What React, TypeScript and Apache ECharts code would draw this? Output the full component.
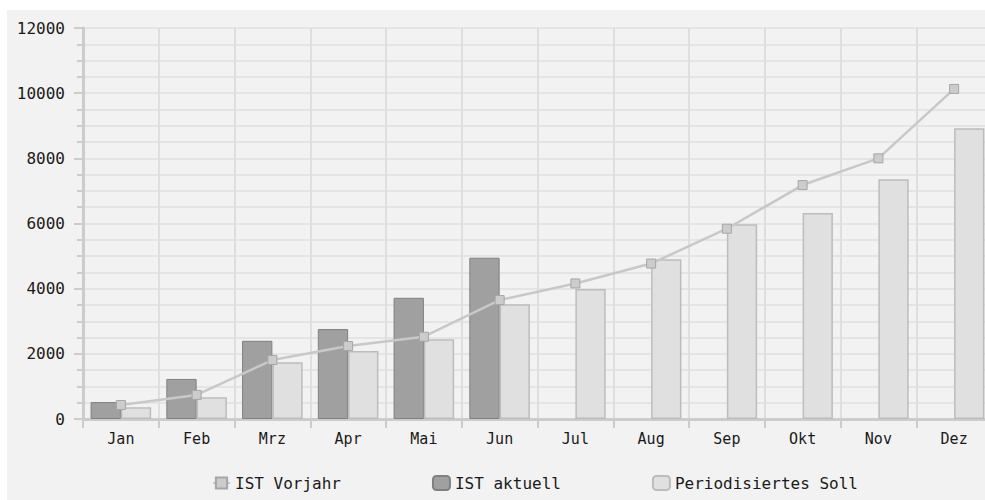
import React, { useEffect, useRef } from "react";
import * as echarts from "echarts";

const months = ["Jan", "Feb", "Mrz", "Apr", "Mai", "Jun", "Jul", "Aug", "Sep", "Okt", "Nov", "Dez"];
const istVorjahr = [430, 740, 1810, 2240, 2525, 3650, 4160, 4770, 5840, 7180, 8000, 10130];
const istAktuell: (number | null)[] = [520, 1230, 2400, 2760, 3720, 4950, null, null, null, null, null, null];
const periodSoll = [360, 665, 1740, 2090, 2445, 3520, 3990, 4900, 5980, 6320, 7360, 8920];

const FONT = "DejaVu Sans Mono";

export default function App() {
  const ref = useRef<HTMLDivElement>(null);
  useEffect(() => {
    if (!ref.current) return;
    const chart = echarts.init(ref.current, null, { renderer: "svg" });
    chart.setOption({
      animation: false,
      backgroundColor: "#f2f2f2",
      grid: { left: 76, top: 18, right: 0, bottom: 81, containLabel: false },
      legend: {
        left: 200,
        top: 460,
        itemWidth: 17,
        itemHeight: 14,
        itemGap: 91,
        textStyle: { fontFamily: FONT, fontSize: 16, color: "#1a1a1a" },
        data: ["IST Vorjahr", "IST aktuell", "Periodisiertes Soll"],
      },
      xAxis: {
        type: "category",
        data: months,
        boundaryGap: true,
        axisLine: { show: true, lineStyle: { color: "#cccccc", width: 3 } },
        axisTick: { show: true, length: 9, lineStyle: { color: "#cccccc", width: 2 } },
        axisLabel: { fontFamily: FONT, fontSize: 15, color: "#1a1a1a", margin: 12 },
        splitLine: { show: true, lineStyle: { color: "#dedede", width: 2 } },
      },
      yAxis: {
        type: "value",
        min: 0,
        max: 12000,
        interval: 2000,
        axisLine: { show: true, lineStyle: { color: "#cccccc", width: 3 } },
        axisTick: { show: true, length: 9, lineStyle: { color: "#cccccc", width: 2 } },
        minorTick: { show: true, splitNumber: 4, length: 6, lineStyle: { color: "#cccccc", width: 2 } },
        axisLabel: {
          fontFamily: FONT,
          fontSize: 16,
          color: "#1a1a1a",
          margin: 18,
          formatter: (v: number) => String(v),
        },
        splitLine: { show: true, lineStyle: { color: "#e4e4e4", width: 2 } },
        minorSplitLine: { show: true, lineStyle: { color: "#e4e4e4", width: 2 } },
      },
      series: [
        {
          name: "IST Vorjahr",
          type: "line",
          data: istVorjahr,
          z: 5,
          symbol: "rect",
          symbolSize: 9,
          lineStyle: { color: "#c8c8c8", width: 2.5 },
          itemStyle: { color: "#cccccc", borderColor: "#a6a6a6", borderWidth: 1 },
        },
        {
          name: "IST aktuell",
          type: "bar",
          data: istAktuell,
          barGap: "0%",
          barCategoryGap: "20%",
          itemStyle: { color: "#a0a0a0", borderColor: "#808080", borderWidth: 1 },
        },
        {
          name: "Periodisiertes Soll",
          type: "bar",
          data: periodSoll,
          barGap: "0%",
          barCategoryGap: "20%",
          itemStyle: { color: "#e0e0e0", borderColor: "#bcbcbc", borderWidth: 1.5 },
        },
      ],
    });
    return () => chart.dispose();
  }, []);
  return (
    <div
      style={{ position: "absolute", left: 7, top: 10, width: 978, height: 490, overflow: "hidden" }}
    >
      <div ref={ref} style={{ width: 985, height: 490 }} />
    </div>
  );
}
